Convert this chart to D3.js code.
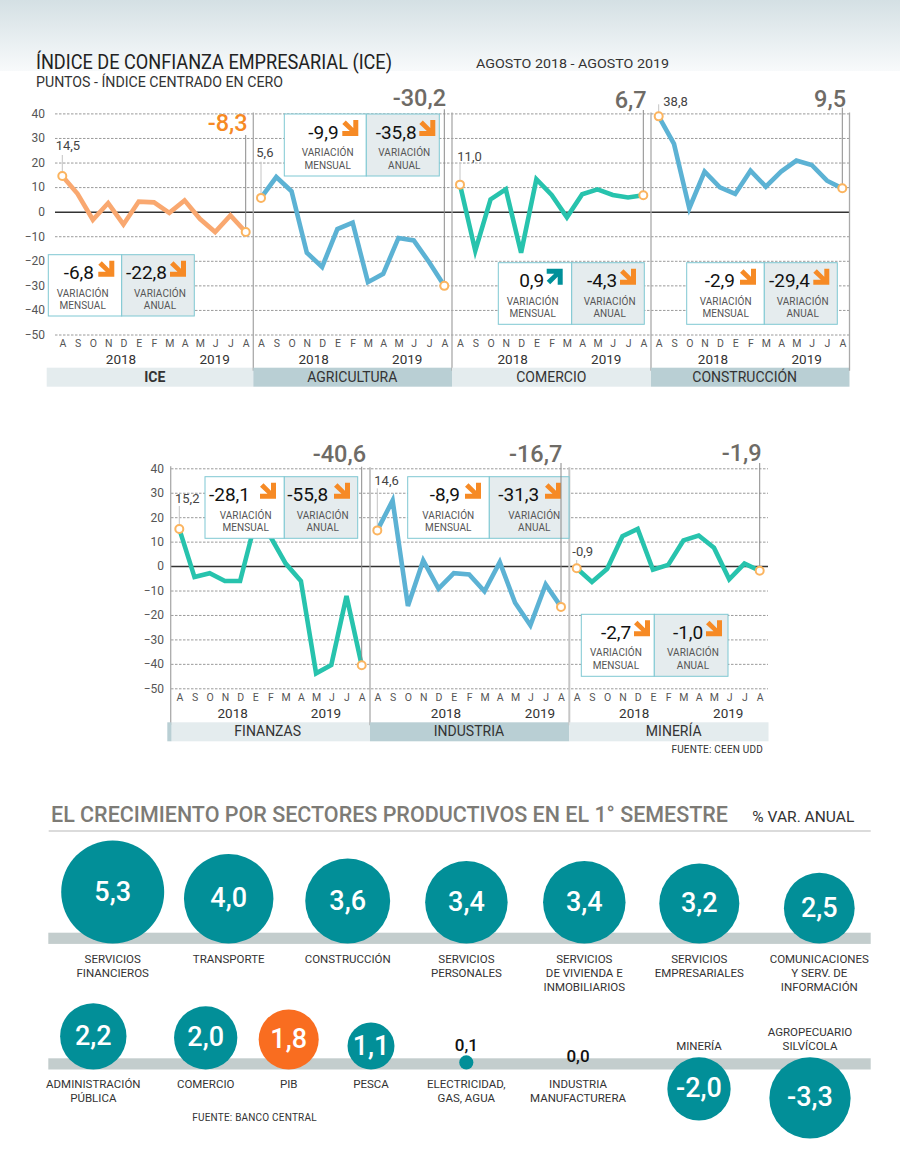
<!DOCTYPE html>
<html>
<head>
<meta charset="utf-8">
<script src="https://cdn.jsdelivr.net/npm/d3@7"></script>
<style>
  html, body { margin: 0; padding: 0; background: #fff; }
  svg { display: block; }
  text { font-family: Roboto, "Noto Sans", sans-serif; }
</style>
</head>
<body>
<div id="chart"></div>
<script>
// Data
var months = ["A", "S", "O", "N", "D", "E", "F", "M", "A", "M", "J", "J", "A"];
var yTicks = [40, 30, 20, 10, 0, -10, -20, -30, -40, -50];

var iceValues = [14.5, 7.3, -3.3, 3.5, -5.2, 4.1, 3.8, -0.5, 4.6, -2.9, -8.3, -1.5, -8.3];
var agriculturaValues = [5.6, 14.1, 8.3, -16.7, -22.5, -7.1, -4.5, -28.7, -25.3, -10.7, -11.7, -20.5, -30.2];
var comercioValues = [11.0, -15.9, 5.0, 9.1, -16.7, 13.2, 6.8, -2.3, 7.1, 9.1, 6.8, 5.8, 6.7];
var construccionValues = [38.8, 27.6, 1.4, 16.3, 9.9, 7.2, 16.7, 10.2, 16.3, 20.8, 19.0, 12.6, 9.5];
var finanzasValues = [15.2, -4.5, -2.9, -6.1, -6.1, 18.0, 12.0, 1.0, -6.1, -43.9, -40.5, -12.2, -40.6];
var industriaValues = [14.6, 26.8, -16.3, 2.3, -9.2, -2.9, -3.4, -10.3, 1.6, -15.0, -24.2, -7.5, -16.7];
var mineriaValues = [-0.9, -6.5, -1.1, 12.2, 15.2, -1.5, 0.5, 10.5, 12.5, 7.5, -5.4, 1.0, -1.9];

var panelNames = ["ICE", "AGRICULTURA", "COMERCIO", "CONSTRUCCIÓN", "FINANZAS", "INDUSTRIA", "MINERÍA"];
var monthlyChange = [-6.8, -9.9, 0.9, -2.9, -28.1, -8.9, -2.7];
var yearlyChange = [-22.8, -35.8, -4.3, -29.4, -55.8, -31.3, -1.0];

var sectorsTop = ["SERVICIOS|FINANCIEROS", "TRANSPORTE", "CONSTRUCCIÓN", "SERVICIOS|PERSONALES", "SERVICIOS|DE VIVIENDA E|INMOBILIARIOS", "SERVICIOS|EMPRESARIALES", "COMUNICACIONES|Y SERV. DE|INFORMACIÓN"];
var growthTop = [5.3, 4.0, 3.6, 3.4, 3.4, 3.2, 2.5];
var sectorsBottom = ["ADMINISTRACIÓN|PÚBLICA", "COMERCIO", "PIB", "PESCA", "ELECTRICIDAD,|GAS, AGUA", "INDUSTRIA|MANUFACTURERA", "MINERÍA", "AGROPECUARIO|SILVÍCOLA"];
var growthBottom = [2.2, 2.0, 1.8, 1.1, 0.1, 0.0, -2.0, -3.3];

var allValues = [iceValues, agriculturaValues, comercioValues, construccionValues, finanzasValues, industriaValues, mineriaValues];

// Layout of the panels, nothing to do with the data
var ORANGE = "#f9a870", BLUE = "#5cb2d4", GREEN = "#27c3ad";
var lineColors = [ORANGE, BLUE, GREEN, BLUE, GREEN, BLUE, GREEN];
var bandColors = ["#e4ecee", "#b9cfd4", "#e4ecee", "#b9cfd4", "#e4ecee", "#b9cfd4", "#e4ecee"];
var panelStart = [62.3, 261, 460, 658.7, 179.3, 377.3, 576.7];
var panelEnd = [245.7, 444.3, 643.3, 842.3, 361.7, 561, 759.7];
var dividerX = [253.3, 452, 651, 849.5, 370, 569.3, 768.5];
var bandStart = [46.7, 253.3, 452, 651, 171.5, 370, 569.3];
var nameX = [154.7, 352.3, 551.3, 744.7, 267.7, 469, 673.7];
var year18X = [121, 313.7, 512.7, 713, 232.7, 446, 634.3];
var year19X = [214.7, 407.3, 606.3, 806.7, 326, 540, 728.3];

// start label x, baseline, leader top
var startLabelX = [55.7, 256.3, 457.3, 663.3, 175, 374.3, 572.3];
var startLabelY = [150, 157.3, 161, 106, 502.7, 485, 555.7];
var startLeaderTop = [155, 161.7, 164, 104.3, 506, 488.3, 560];
// end label right edge, baseline, leader top
var endLabelX = [247.7, 446, 646.7, 846, 366, 562.3, 761.7];
var endLabelY = [130.7, 106, 108, 106.7, 461.7, 462, 460.7];
var endLeaderTop = [135, 109.3, 110, 107.7, 466.7, 463, 463];

// boxes: left, split, right, top, bottom
var boxes = [
	[48.3, 121.7, 194.3, 254.7, 316],
	[284.3, 366.3, 439.3, 114, 176],
	[498.3, 571.7, 644.3, 262.7, 324.3],
	[686.7, 764.3, 837.3, 262.7, 324.3],
	[205, 284.3, 357.7, 476.7, 538.3],
	[407.7, 489.3, 569, 476.7, 538.3],
	[581.3, 654.3, 728, 614.3, 676.3]
];
// value right edge, arrow left, caption centre, for each half of the box
var boxMonthly = [[94, 98.3, 82.7], [338.7, 342.3, 327.7], [544.3, 546.7, 532.7], [735, 740, 725.7], [250, 260, 245.7], [460, 465, 448.3], [631.3, 634, 616]];
var boxYearly = [[167, 170, 160], [416.7, 419.3, 404.3], [617.3, 620, 609.7], [810, 813.3, 802.7], [328.3, 334, 322.7], [539.3, 545, 534.3], [703.3, 706, 693]];

var sectorXTop = [112.7, 228.7, 347.7, 466.4, 584.3, 699.3, 819.3];
var sectorXBottom = [93.3, 205.7, 288.7, 371, 466.3, 578, 699, 810];

var svg = d3.select("#chart").append("svg").attr("width", 900).attr("height", 1162);

// Header gradient
var grad = svg.append("defs").append("linearGradient")
	.attr("id", "head").attr("x1", 0).attr("x2", 0).attr("y1", 0).attr("y2", 1);
grad.append("stop").attr("offset", "0%").attr("stop-color", "#d4e0e4");
grad.append("stop").attr("offset", "100%").attr("stop-color", "#f8fafb");
svg.append("rect").attr("width", 900).attr("height", 71).attr("fill", "url(#head)");

function addText(x, y, txt, size, color, anchor, weight) {
	return svg.append("text")
		.attr("x", x).attr("y", y)
		.attr("font-size", size)
		.attr("fill", color)
		.attr("text-anchor", anchor || "start")
		.attr("font-weight", weight || 400)
		.text(txt);
}

function comma(v) {
	return v.toFixed(1).replace(".", ",");
}

addText(36, 69, "ÍNDICE DE CONFIANZA EMPRESARIAL (ICE)", 20.5, "#222")
	.attr("textLength", 356).attr("lengthAdjust", "spacingAndGlyphs");
addText(36, 86.7, "PUNTOS - ÍNDICE CENTRADO EN CERO", 14, "#333")
	.attr("textLength", 247).attr("lengthAdjust", "spacingAndGlyphs");
addText(476, 68.3, "AGOSTO 2018 - AGOSTO 2019", 13, "#333")
	.attr("textLength", 193).attr("lengthAdjust", "spacingAndGlyphs");

// One grid for each row of panels
function drawGrid(y, left, right, labelX) {
	var g = svg.append("g").attr("transform", `translate(${left}, 0)`);
	g.call(d3.axisLeft(y).tickValues(yTicks).tickSize(left - right).tickPadding(left - labelX));
	g.select(".domain").remove();
	g.selectAll(".tick line")
		.attr("stroke", d => d === 0 ? "#333" : "#9a9a9a")
		.attr("stroke-width", d => d === 0 ? 1.5 : 1)
		.attr("stroke-dasharray", d => d === 0 ? null : "2.5,1.5");
	g.selectAll(".tick text")
		.attr("font-size", 12)
		.attr("fill", "#555")
		.style("font-family", "Roboto");
}

var yTop = d3.scaleLinear().domain([40, -50]).range([113.4, 334.5]);
var yBottom = d3.scaleLinear().domain([40, -50]).range([468.3, 688.3]);
drawGrid(yTop, 55, 849, 45);
drawGrid(yBottom, 171, 768, 164);

// left edge of the second row
svg.append("line")
	.attr("x1", 170.7).attr("x2", 170.7)
	.attr("y1", yBottom(40) - 2).attr("y2", 725)
	.attr("stroke", "#aaa").attr("stroke-width", 1.3);

// Arrow glyph, 16 x 16
function drawArrow(x, y, up, color) {
	var d = up
		? "M0,0H16V16H11V8L3.5,15.5L0,12L7.5,5H0Z"
		: "M0,16H16V0H11V8L3.5,0.5L0,4L7.5,11H0Z";
	svg.append("path")
		.attr("transform", `translate(${x}, ${y})`)
		.attr("d", d)
		.attr("fill", color);
}

allValues.forEach(function(values, i) {
	var y = i < 4 ? yTop : yBottom;
	var bandTop = i < 4 ? 367.7 : 722.3;
	var monthY = i < 4 ? 348.3 : 702.3;
	var yearY = i < 4 ? 364 : 718;
	var x = d3.scalePoint().domain(d3.range(months.length)).range([panelStart[i], panelEnd[i]]);

	// band with panel name
	svg.append("rect")
		.attr("x", bandStart[i]).attr("y", bandTop)
		.attr("width", dividerX[i] - bandStart[i]).attr("height", 19)
		.attr("fill", bandColors[i]);
	if (i === 4) {
		svg.append("rect").attr("x", 167.3).attr("y", bandTop)
			.attr("width", 4.2).attr("height", 19).attr("fill", "#b9cfd4");
	}
	addText(nameX[i], bandTop + 14, panelNames[i], 14, "#333", "middle", i === 0 ? 700 : 400);

	// divider lines
	if (i !== 6) {
		svg.append("line")
			.attr("x1", dividerX[i]).attr("x2", dividerX[i])
			.attr("y1", y(40) - 1).attr("y2", bandTop + 3)
			.attr("stroke", i === 5 ? "#c6c6c6" : "#aaa")
			.attr("stroke-width", i === 5 ? 2 : 1.3);
	}

	// months and years
	var monthAxis = d3.axisBottom(x).tickSize(0).tickFormat(k => months[k]);
	var axisG = svg.append("g").attr("transform", `translate(0, ${monthY - 12})`).call(monthAxis);
	axisG.select(".domain").remove();
	axisG.selectAll("text")
		.attr("font-size", 10.5).attr("fill", "#555").attr("y", 3).attr("dy", "0.71em")
		.style("font-family", "Roboto");
	addText(year18X[i], yearY, "2018", 13.5, "#333", "middle");
	addText(year19X[i], yearY, "2019", 13.5, "#333", "middle");

	// the series line
	var line = d3.line().x((d, k) => x(k)).y(d => y(d));
	svg.append("path")
		.datum(values)
		.attr("d", line)
		.attr("fill", "none")
		.attr("stroke", lineColors[i])
		.attr("stroke-width", 4.6)
		.attr("stroke-linejoin", "miter");

	// box with the two variations
	var b = boxes[i];
	svg.append("rect").attr("x", b[0]).attr("y", b[3]).attr("width", b[1] - b[0]).attr("height", b[4] - b[3])
		.attr("fill", "#fff").attr("stroke", "#7fc8d3").attr("stroke-width", 1);
	svg.append("rect").attr("x", b[1]).attr("y", b[3]).attr("width", b[2] - b[1]).attr("height", b[4] - b[3])
		.attr("fill", "#e5ecee").attr("stroke", "#7fc8d3").attr("stroke-width", 1);

	[[monthlyChange[i], boxMonthly[i], "MENSUAL"], [yearlyChange[i], boxYearly[i], "ANUAL"]].forEach(function(c) {
		addText(c[1][0], b[3] + 24.5, comma(c[0]), 19, "#111", "end");
		drawArrow(c[1][1], b[3] + 6, c[0] > 0, c[0] > 0 ? "#00909a" : "#f68a25");
		addText(c[1][2], b[3] + 42, "VARIACIÓN", 10, "#555", "middle").attr("letter-spacing", 0.1);
		addText(c[1][2], b[3] + 54.5, c[2], 10, "#555", "middle").attr("letter-spacing", 0.1);
	});

	// leaders, first and last label, rings
	var last = values.length - 1;
	svg.append("line").attr("x1", x(0)).attr("x2", x(0))
		.attr("y1", startLeaderTop[i]).attr("y2", y(values[0]))
		.attr("stroke", "#c4c4c4").attr("stroke-width", 1);
	svg.append("line").attr("x1", x(last)).attr("x2", x(last))
		.attr("y1", endLeaderTop[i]).attr("y2", y(values[last]))
		.attr("stroke", "#8a8a8a").attr("stroke-width", 1);
	addText(startLabelX[i], startLabelY[i], comma(values[0]), 13, "#444");
	addText(endLabelX[i], endLabelY[i], comma(values[last]), 23.5, i === 0 ? "#f68a25" : "#6e6b66", "end", 500);

	svg.selectAll(null)
		.data([0, last])
		.enter()
		.append("circle")
		.attr("cx", k => x(k))
		.attr("cy", k => y(values[k]))
		.attr("r", 4)
		.attr("fill", "#fff")
		.attr("stroke", "#fbb45f")
		.attr("stroke-width", 2);
});

addText(763, 752.7, "FUENTE: CEEN UDD", 10, "#333", "end").attr("letter-spacing", 0.2);

// Bottom section
addText(51, 821.7, "EL CRECIMIENTO POR SECTORES PRODUCTIVOS EN EL 1° SEMESTRE", 22.4, "#7d7b76", "start", 500)
	.attr("textLength", 677).attr("lengthAdjust", "spacingAndGlyphs");
addText(752.3, 821.7, "% VAR. ANUAL", 15, "#333")
	.attr("textLength", 102).attr("lengthAdjust", "spacingAndGlyphs");
svg.append("line").attr("x1", 48.7).attr("x2", 870.7).attr("y1", 831).attr("y2", 831)
	.attr("stroke", "#cfcfcf").attr("stroke-width", 1.5);

var rScale = d3.scaleSqrt().domain([0, 5.3]).range([0, 51.5]);
var PIB_COLOR = "#f96d20", TEAL = "#028f98";

function drawLabels(x, y, label) {
	label.split("|").forEach(function(part, k) {
		addText(x, y + k * 14, part, 11.5, "#333", "middle");
	});
}

function drawRow(names, growth, positions, bandY, baseY, labelY) {
	var x = d3.scaleOrdinal().domain(names).range(positions);
	svg.append("rect").attr("x", 48.3).attr("y", bandY).attr("width", 822.4).attr("height", 11.2).attr("fill", "#c3cdcd");
	names.forEach(function(name, i) {
		var v = growth[i], r = rScale(Math.abs(v));
		var cy = v < 0 ? bandY - 1 + r : baseY - r;
		if (v !== 0) {
			svg.append("circle").attr("cx", x(name)).attr("cy", cy).attr("r", r)
				.attr("fill", name === "PIB" ? PIB_COLOR : TEAL);
		}
		if (Math.abs(v) < 0.5) {
			var labelBase = v === 0 ? baseY - 7.8 : baseY - 18.8;
			addText(x(name), labelBase, comma(v), 17, "#111", "middle", 500);
		} else {
			addText(x(name), cy + 8.5, comma(v), 27, "#fff", "middle", 500);
		}
		if (v < 0) {
			var n = name.split("|").length;
			drawLabels(x(name), bandY - 8.3 - (n - 1) * 14, name);
		} else {
			drawLabels(x(name), labelY, name);
		}
	});
}

drawRow(sectorsTop, growthTop, sectorXTop, 932.7, 943.5, 962.7);
drawRow(sectorsBottom, growthBottom, sectorXBottom, 1058.3, 1069.5, 1088.3);

addText(192.3, 1120.7, "FUENTE: BANCO CENTRAL", 10, "#333").attr("letter-spacing", 0.2);
</script>
</body>
</html>
